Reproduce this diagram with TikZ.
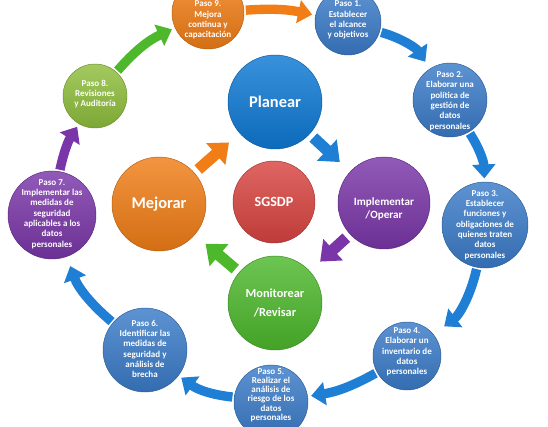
\documentclass[tikz,border=0pt]{standalone}
\usepackage{fontspec}
\setmainfont{Carlito}
\usetikzlibrary{arrows.meta,positioning}
\definecolor{pasoblue}{HTML}{3A7BC8}
\definecolor{planblue}{HTML}{0E79D4}
\definecolor{arrowblue}{HTML}{1E7FD4}
\definecolor{orangefase}{HTML}{F07D16}
\definecolor{purplefase}{HTML}{7A36A8}
\definecolor{greenfase}{HTML}{4DB82C}
\definecolor{limefase}{HTML}{8EBE3C}
\definecolor{redcore}{HTML}{D84440}

\begin{document}
\begin{tikzpicture}[x=0.3mm, y=-0.3mm,
  ball/.style={circle, draw=#1!75!black, line width=0.4pt, top color=#1!82!white, bottom color=#1!88!black, inner sep=0pt},
  pasotxt/.style={text=white, align=center, font=\bfseries\fontsize{7.7}{8.8}\selectfont},
  fasetxt/.style={text=white, align=center},
  outarrow/.style={-{Triangle[width=6.8mm,length=4.2mm]}, line width=2.8mm, draw=#1, bend left=15, shorten <=0.5mm, shorten >=1mm},
  inarrow/.style={-{Triangle[width=8.4mm,length=5.3mm]}, line width=3.4mm, draw=#1, shorten <=1.5mm, shorten >=4.2mm}
]
\useasboundingbox (0,0) rectangle (548,426);
\clip (0,0) rectangle (548,426);

% ciclo interno
\node[ball=planblue, minimum size=28.2mm] (plan) at (275,102) {};
\node[ball=purplefase, minimum size=27.6mm] (impl) at (384,203) {};
\node[ball=greenfase, minimum size=28.2mm] (moni) at (275,303) {};
\node[ball=orangefase, minimum size=28.2mm] (mejo) at (159,204) {};
\node[ball=redcore, minimum size=24.6mm] (core) at (274,202) {};

\node[fasetxt, font=\bfseries\fontsize{14}{16}\selectfont] (plant) at (plan) {Planear};
\node[fasetxt, font=\bfseries\fontsize{9.5}{11}\selectfont] (implt) at (384,209) {Implementar\\/Operar};
\node[fasetxt, font=\bfseries\fontsize{10.5}{16.5}\selectfont] (monit) at (moni) {Monitorear\\/Revisar};
\node[fasetxt, font=\bfseries\fontsize{14}{16}\selectfont] (mejot) at (mejo) {Mejorar};
\node[fasetxt, font=\bfseries\fontsize{12}{14}\selectfont] (coret) at (core) {SGSDP};

% pasos
\node[ball=orangefase, minimum size=21.6mm] (p9) at (208,13) {};
\node[ball=pasoblue, minimum size=19.8mm] (p1) at (348,22) {};
\node[ball=pasoblue, minimum size=22.2mm] (p2) at (450,100) {};
\node[ball=pasoblue, minimum size=25.8mm] (p3) at (485,225) {};
\node[ball=pasoblue, minimum size=20.4mm] (p4) at (407,356) {};
\node[ball=pasoblue, minimum size=22.2mm] (p5) at (271,402) {};
\node[ball=pasoblue, minimum size=25.2mm] (p6) at (145,350) {};
\node[ball=purplefase, minimum size=26.4mm] (p7) at (52,215) {};
\node[ball=limefase, minimum size=19.2mm] (p8) at (95,96) {};

\node[pasotxt] (p9t) at (208,20) {Paso 9.\\Mejora\\continua y\\capacitación};
\node[pasotxt] (p1t) at (348,20) {Paso 1.\\Establecer\\el alcance\\y objetivos};
\node[pasotxt] (p2t) at (450,101) {Paso 2.\\Elaborar una\\política de\\gestión de\\datos\\personales};
\node[pasotxt] (p3t) at (485,225) {Paso 3.\\Establecer\\funciones y\\obligaciones de\\quienes traten\\datos\\personales};
\node[pasotxt] (p4t) at (407,352) {Paso 4.\\Elaborar un\\inventario de\\datos\\personales};
\node[pasotxt, font=\bfseries\fontsize{7.7}{7.9}\selectfont] (p5t) at (271,395) {Paso 5.\\Realizar el\\análisis de\\riesgo de los\\datos\\personales};
\node[pasotxt] (p6t) at (145,349) {Paso 6.\\Identificar las\\medidas de\\seguridad y\\análisis de\\brecha};
\node[pasotxt] (p7t) at (52,214) {Paso 7.\\Implementar las\\medidas de\\seguridad\\aplicables a los\\datos\\personales};
\node[pasotxt] (p8t) at (95,94) {Paso 8.\\Revisiones\\y Auditoría};

\draw[inarrow=arrowblue] (plan) -- (impl);
\draw[inarrow=purplefase] (impl) -- (moni);
\draw[inarrow=greenfase] (moni) -- (mejo);
\draw[inarrow=orangefase] (mejo) -- (plan);

\draw[outarrow=orangefase, bend left=8] (p9) to (p1);
\draw[outarrow=arrowblue, bend left=20, shorten >=2.5mm] (p1) to (p2);
\draw[outarrow=arrowblue] (p2) to (p3);
\draw[outarrow=arrowblue, bend left=20, shorten >=4mm] (p3) to (p4);
\draw[outarrow=arrowblue, bend left=10] (p4) to (p5);
\draw[outarrow=arrowblue] (p5) to (p6);
\draw[outarrow=arrowblue, shorten >=3mm] (p6) to (p7);
\draw[outarrow=purplefase, bend left=10] (p7) to (p8);
\draw[outarrow=greenfase, bend left=12] (p8) to (p9);
\end{tikzpicture}
\end{document}
